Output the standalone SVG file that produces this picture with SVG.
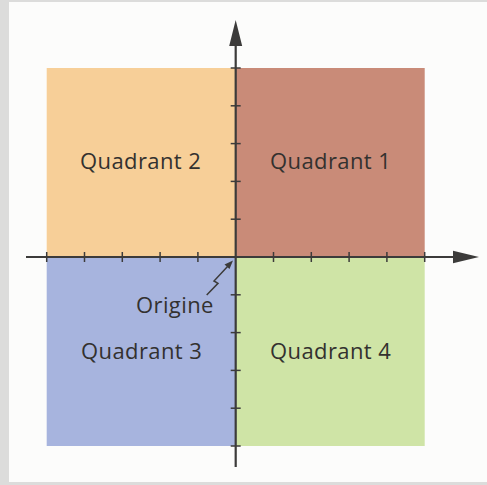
<svg xmlns="http://www.w3.org/2000/svg" width="487" height="485" viewBox="0 0 487 485">
<defs>
<style>
.lbl{font-family:"Open Sans","Liberation Sans",sans-serif;font-size:22px;fill:#33312f;letter-spacing:0.4px}
.axis{stroke:#3c3b3a;stroke-width:2.2;fill:none}
.tick{stroke:#3c3b3a;stroke-width:1.5}
.head{fill:#3c3b3a}
</style>
</defs>
<rect x="0" y="0" width="487" height="485" fill="#dcdcdb"/>
<rect x="9" y="2" width="478" height="480" fill="#fcfcfb"/>
<g id="quadrant2"><rect x="46.7" y="68" width="189" height="189" fill="#f7cf98"/><text class="lbl" x="80" y="169">Quadrant 2</text></g>
<g id="quadrant1"><rect x="235.7" y="68" width="189" height="189" fill="#c98b78"/><text class="lbl" x="270" y="169">Quadrant 1</text></g>
<g id="quadrant3"><rect x="46.7" y="257" width="189" height="189" fill="#a7b4de"/><text class="lbl" x="81" y="359">Quadrant 3</text></g>
<g id="quadrant4"><rect x="235.7" y="257" width="189" height="189" fill="#cfe4a6"/><text class="lbl" x="270" y="359">Quadrant 4</text></g>
<g id="origine"><text class="lbl" x="136" y="313">Origine</text></g>
<g id="connectors">
<line class="axis" x1="26" y1="257" x2="455" y2="257"/>
<polygon class="head" points="479,257 453,250.8 453,263.2"/>
<line class="axis" x1="235.7" y1="467" x2="235.7" y2="43"/>
<polygon class="head" points="235.7,20 229.2,46 242.2,46"/>
<g class="tick">
<line x1="46.7" y1="252" x2="46.7" y2="262"/><line x1="84.5" y1="252" x2="84.5" y2="262"/><line x1="122.3" y1="252" x2="122.3" y2="262"/><line x1="160.1" y1="252" x2="160.1" y2="262"/><line x1="197.9" y1="252" x2="197.9" y2="262"/>
<line x1="273.5" y1="252" x2="273.5" y2="262"/><line x1="311.3" y1="252" x2="311.3" y2="262"/><line x1="349.1" y1="252" x2="349.1" y2="262"/><line x1="386.9" y1="252" x2="386.9" y2="262"/><line x1="424.7" y1="252" x2="424.7" y2="262"/>
<line x1="230.7" y1="68" x2="240.7" y2="68"/><line x1="230.7" y1="105.8" x2="240.7" y2="105.8"/><line x1="230.7" y1="143.6" x2="240.7" y2="143.6"/><line x1="230.7" y1="181.4" x2="240.7" y2="181.4"/><line x1="230.7" y1="219.2" x2="240.7" y2="219.2"/>
<line x1="230.7" y1="294.8" x2="240.7" y2="294.8"/><line x1="230.7" y1="332.6" x2="240.7" y2="332.6"/><line x1="230.7" y1="370.4" x2="240.7" y2="370.4"/><line x1="230.7" y1="408.2" x2="240.7" y2="408.2"/><line x1="230.7" y1="446" x2="240.7" y2="446"/>
</g>
<polyline points="206.7,295 218,283.3 214,281 228,266" fill="none" stroke="#3c3b3a" stroke-width="1.5"/>
<polygon class="head" points="233,260.5 224.5,264.5 229.5,269"/>
</g>
</svg>
